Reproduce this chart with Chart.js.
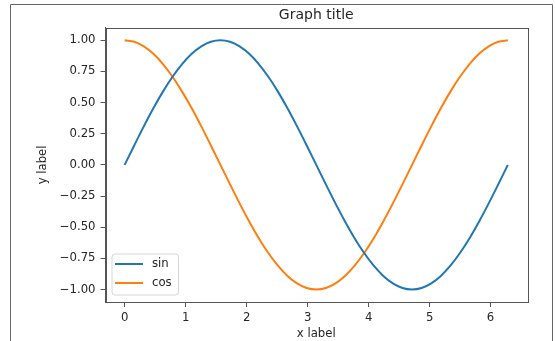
<!DOCTYPE html>
<html>
<head>
<meta charset="utf-8">
<script src="https://cdn.jsdelivr.net/npm/chart.js@4/dist/chart.umd.min.js"></script>
<style>
  body { margin: 0; background: #fff; }
  canvas { display: block; }
</style>
</head>
<body>
<canvas id="chart" width="555" height="341"></canvas>
<script>
// values (x from 0 to 2*pi)
var xValues = [0, 0.157, 0.314, 0.471, 0.628, 0.785, 0.942, 1.100, 1.257, 1.414,
  1.571, 1.728, 1.885, 2.042, 2.199, 2.356, 2.513, 2.670, 2.827, 2.985,
  3.142, 3.299, 3.456, 3.613, 3.770, 3.927, 4.084, 4.241, 4.398, 4.555,
  4.712, 4.869, 5.027, 5.184, 5.341, 5.498, 5.655, 5.812, 5.969, 6.126, 6.283];
var sinValues = [0, 0.156, 0.309, 0.454, 0.588, 0.707, 0.809, 0.891, 0.951, 0.988,
  1.000, 0.988, 0.951, 0.891, 0.809, 0.707, 0.588, 0.454, 0.309, 0.156,
  0.000, -0.156, -0.309, -0.454, -0.588, -0.707, -0.809, -0.891, -0.951, -0.988,
  -1.000, -0.988, -0.951, -0.891, -0.809, -0.707, -0.588, -0.454, -0.309, -0.156, 0.000];
var cosValues = [1.000, 0.988, 0.951, 0.891, 0.809, 0.707, 0.588, 0.454, 0.309, 0.156,
  0.000, -0.156, -0.309, -0.454, -0.588, -0.707, -0.809, -0.891, -0.951, -0.988,
  -1.000, -0.988, -0.951, -0.891, -0.809, -0.707, -0.588, -0.454, -0.309, -0.156,
  0.000, 0.156, 0.309, 0.454, 0.588, 0.707, 0.809, 0.891, 0.951, 0.988, 1.000];
var seriesNames = ["sin", "cos"];
var xTicks = [0, 1, 2, 3, 4, 5, 6];
var yTicks = [-1, -0.75, -0.5, -0.25, 0, 0.25, 0.5, 0.75, 1];

var FONT = "'DejaVu Sans', sans-serif";
var TEXT = "#262626";
var AXIS = "#555";

function points(ys) {
  return xValues.map(function (x, i) { return { x: x, y: ys[i] }; });
}

// outer frame of the figure (notebook output box) + axes box
var framePlugin = {
  id: "frame",
  beforeDraw: function (chart) {
    var ctx = chart.ctx;
    ctx.save();
    ctx.strokeStyle = "#666";
    ctx.lineWidth = 1;
    ctx.beginPath();
    ctx.moveTo(10.5, 341);
    ctx.lineTo(10.5, 4.5);
    ctx.lineTo(552.5, 4.5);
    ctx.lineTo(552.5, 341);
    ctx.stroke();
    ctx.restore();
  },
  afterDatasetsDraw: function (chart) {
    var a = chart.chartArea;
    var ctx = chart.ctx;
    ctx.save();
    ctx.strokeStyle = AXIS;
    ctx.lineWidth = 1;
    ctx.strokeRect(Math.round(a.left) + 0.5, Math.round(a.top) + 0.5,
      Math.round(a.right - a.left), Math.round(a.bottom - a.top));
    ctx.restore();
  }
};

// legend in the lower left corner of the axes
var legendPlugin = {
  id: "innerLegend",
  afterDraw: function (chart) {
    var a = chart.chartArea;
    var ctx = chart.ctx;
    var bx = a.left + 6.5, bw = 66.5, bh = 41;
    var by = a.bottom - 7 - bh;
    ctx.save();
    ctx.beginPath();
    ctx.roundRect(bx, by, bw, bh, 3);
    ctx.fillStyle = "rgba(255,255,255,0.8)";
    ctx.fill();
    ctx.strokeStyle = "#d6d6d6";
    ctx.lineWidth = 1;
    ctx.stroke();
    ctx.font = "11.7px " + FONT;
    ctx.textBaseline = "middle";
    chart.data.datasets.forEach(function (ds, i) {
      var y = by + 10 + i * 19;
      ctx.strokeStyle = ds.borderColor;
      ctx.lineWidth = ds.borderWidth;
      ctx.beginPath();
      ctx.moveTo(bx + 3, y);
      ctx.lineTo(bx + 31, y);
      ctx.stroke();
      ctx.fillStyle = TEXT;
      ctx.fillText(ds.label, bx + 40, y);
    });
    ctx.restore();
  }
};

var ctx = document.getElementById("chart").getContext("2d");
var myChart = new Chart(ctx, {
  type: "scatter",
  data: {
    datasets: [
      {
        label: seriesNames[0],
        data: points(sinValues),
        showLine: true,
        borderColor: "#1f77b4",
        backgroundColor: "#1f77b4",
        borderWidth: 2,
        pointRadius: 0,
        cubicInterpolationMode: "monotone"
      },
      {
        label: seriesNames[1],
        data: points(cosValues),
        showLine: true,
        borderColor: "#ff7f0e",
        backgroundColor: "#ff7f0e",
        borderWidth: 2,
        pointRadius: 0,
        cubicInterpolationMode: "monotone"
      }
    ]
  },
  options: {
    responsive: false,
    animation: false,
    devicePixelRatio: 1,
    layout: { padding: { left: 35.5, right: 28, top: 0, bottom: 0 } },
    plugins: {
      legend: { display: false },
      tooltip: { enabled: false },
      title: {
        display: true,
        text: "Graph title",
        fullSize: false,
        color: TEXT,
        font: { family: FONT, size: 14, weight: "normal" },
        padding: { top: 7, bottom: 4 }
      }
    },
    scales: {
      x: {
        type: "linear",
        min: -0.314,
        max: 6.597,
        afterBuildTicks: function (scale) {
          scale.ticks = xTicks.map(function (v) { return { value: v }; });
        },
        afterFit: function (scale) { scale.height = 39; },
        grid: { display: true, drawOnChartArea: false, drawTicks: true, tickLength: 5, tickColor: AXIS },
        border: { display: true, color: AXIS },
        ticks: {
          color: TEXT,
          padding: 4,
          maxRotation: 0,
          font: { family: FONT, size: 11.7 },
          callback: function (v) { return String(v); }
        },
        title: {
          display: true,
          text: "x label",
          color: TEXT,
          padding: { top: 0, bottom: 0 },
          font: { family: FONT, size: 11.7 }
        }
      },
      y: {
        min: -1.1,
        max: 1.1,
        afterBuildTicks: function (scale) {
          scale.ticks = yTicks.map(function (v) { return { value: v }; });
        },
        afterFit: function (scale) { scale.width = 70; },
        grid: { display: true, drawOnChartArea: false, drawTicks: true, tickLength: 5, tickColor: AXIS },
        border: { display: true, color: AXIS },
        ticks: {
          color: TEXT,
          padding: 5,
          font: { family: FONT, size: 11.7 },
          callback: function (v) { return v.toFixed(2).replace("-", "\u2212"); }
        },
        title: {
          display: true,
          text: "y label",
          color: TEXT,
          padding: { top: 0, bottom: 0 },
          font: { family: FONT, size: 11.7 }
        }
      }
    }
  },
  plugins: [framePlugin, legendPlugin]
});
</script>
</body>
</html>
